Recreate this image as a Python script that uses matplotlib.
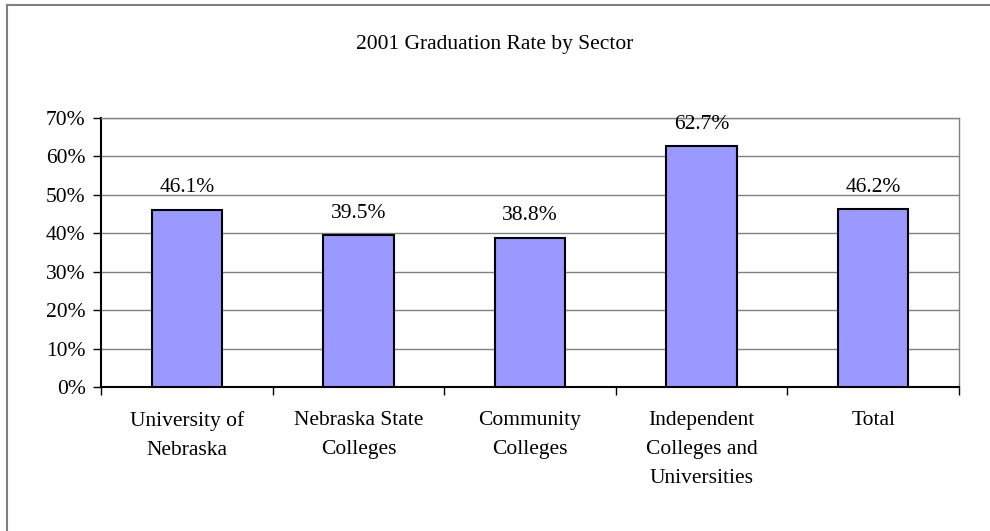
import matplotlib
matplotlib.use("Agg")
import matplotlib.pyplot as plt
from matplotlib.ticker import MultipleLocator, FuncFormatter
from matplotlib.lines import Line2D

categories = ["University of\nNebraska", "Nebraska State\nColleges", "Community\nColleges",
              "Independent\nColleges and\nUniversities", "Total"]
values = [46.1, 39.5, 38.8, 62.7, 46.2]
labels = ["46.1%", "39.5%", "38.8%", "62.7%", "46.2%"]
title = "2001 Graduation Rate by Sector"

plt.rcParams['font.family'] = ['Liberation Serif', 'DejaVu Serif']
FS = 15.5

fig = plt.figure(figsize=(9.9, 5.31), dpi=100)
W, H = 990, 531
ax = fig.add_axes([101 / W, 1 - 387 / H, (959 - 101) / W, (387 - 118) / H])

x = list(range(len(values)))
bars = ax.bar(x, values, width=0.41, color="#9999FF", edgecolor="black", linewidth=1.5, zorder=3)
for xi, v, lab in zip(x, values, labels):
    ax.annotate(lab, (xi, v), xytext=(0, 9), textcoords="offset points",
                ha="center", va="bottom", fontsize=FS, color="black", zorder=4)

ax.set_xlim(-0.5, len(values) - 0.5)
ax.set_ylim(0, 70)
ax.yaxis.set_major_locator(MultipleLocator(10))
ax.yaxis.set_major_formatter(FuncFormatter(lambda v, p: f"{v:.0f}%"))
ax.grid(axis="y", color="#808080", linewidth=1.0, zorder=0)
ax.set_axisbelow(True)

ax.set_xticks([i + 0.5 for i in range(-1, len(values))])
ax.set_xticklabels([])
ax.tick_params(axis="x", direction="out", length=6, width=1, color="black")
ax.tick_params(axis="y", direction="out", length=6, width=1, color="black", labelsize=FS, pad=5)
for xi, c in zip(x, categories):
    ax.annotate(c, (xi, 0), xytext=(0, -17), textcoords="offset points",
                ha="center", va="top", fontsize=FS, linespacing=1.74,
                annotation_clip=False)

for s in ["top", "right"]:
    ax.spines[s].set_color("#808080")
    ax.spines[s].set_linewidth(1.0)
for s in ["left", "bottom"]:
    ax.spines[s].set_color("black")
    ax.spines[s].set_linewidth(1.5)

fig.text(495 / W, 1 - 45 / H, title, ha="center", va="center", fontsize=FS)

# outer chart frame
fig.add_artist(Line2D([7 / W, 7 / W], [0, 1 - 5 / H], transform=fig.transFigure, color="#808080", linewidth=1.5))
fig.add_artist(Line2D([7 / W, 1], [1 - 5 / H, 1 - 5 / H], transform=fig.transFigure, color="#808080", linewidth=1.5))

fig.savefig("out.png", dpi=100)
